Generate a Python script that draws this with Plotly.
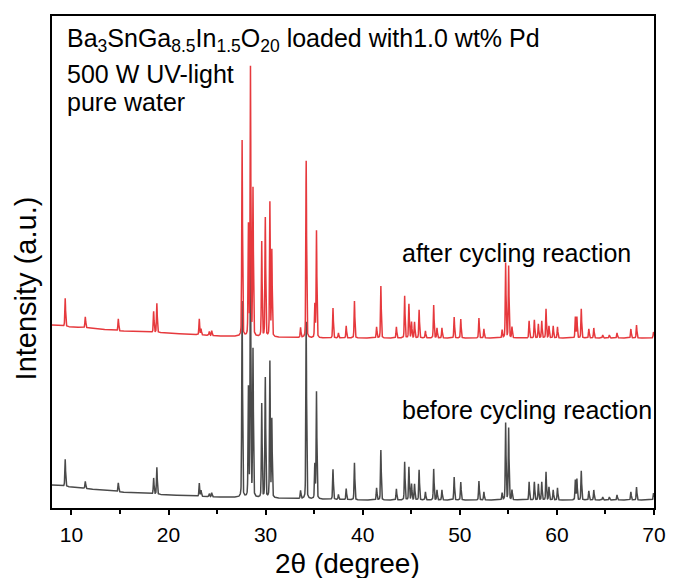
import numpy as np
import plotly.graph_objects as go

# Reflection positions (2θ, degree) shared by both patterns
peak_pos = [9.36, 11.43, 14.83, 18.47, 18.80, 23.17, 23.35, 24.20, 24.45, 27.58,
            28.23, 28.44, 28.70, 29.60, 29.97, 30.44, 30.64, 33.60, 34.18, 35.07,
            35.24, 36.94, 37.50, 38.30, 39.15, 41.43, 41.87, 43.47, 44.32, 44.76,
            45.03, 45.34, 45.81, 46.46, 47.31, 47.65, 48.16, 49.42, 50.10, 51.97,
            52.48, 54.36, 54.72, 55.03, 55.37, 57.14, 57.68, 58.09, 58.44, 58.88,
            59.18, 59.62, 60.06, 61.90, 62.06, 62.51, 63.29, 63.80, 64.72, 65.40,
            66.19, 67.62, 68.20, 69.95]

# Peak intensities (counts) before cycling
before_int = [270, 70, 90, 160, 270, 130, 60, 30, 40, 1960,
              1080, 2680, 1470, 940, 1200, 1360, 780, 80, 1770, 340,
              1070, 300, 50, 110, 370, 120, 500, 110, 380, 330,
              160, 160, 300, 80, 310, 100, 100, 230, 180, 190,
              80, 70, 770, 720, 100, 180, 180, 160, 180, 280,
              130, 100, 120, 200, 210, 290, 90, 100, 30, 30,
              50, 80, 130, 70]

# Peak intensities (counts) after cycling
after_int = [280, 110, 120, 210, 290, 160, 60, 40, 50, 1960,
             1100, 2680, 1470, 950, 1190, 1340, 860, 100, 1770, 330,
             1070, 300, 50, 120, 370, 110, 520, 110, 420, 340,
             160, 160, 280, 70, 330, 100, 100, 210, 190, 200,
             90, 80, 750, 720, 110, 170, 180, 140, 170, 290,
             120, 120, 110, 210, 210, 290, 90, 100, 30, 30,
             50, 90, 130, 60]

# Background levels (counts)
bg_theta = [8, 10, 12, 15, 20, 25, 30, 35, 40, 70]
before_bg = [230, 210, 190, 160, 130, 110, 100, 90, 80, 80]
after_bg = [230, 210, 200, 170, 150, 120, 110, 100, 100, 100]

# Vertical shift applied to the "after" pattern for stacking
after_offset = 1600

# Scan settings
theta = np.arange(8.0, 70.0001, 0.01)
fwhm = 0.09
eta = 0.3


def pattern(bg, heights):
    y = np.interp(theta, bg_theta, bg).astype(float)
    s = fwhm / 2.3548
    g = fwhm / 2
    for p, h in zip(peak_pos, heights):
        d = theta - p
        gauss = np.exp(-0.5 * (d / s) ** 2)
        lor = 1.0 / (1.0 + (d / g) ** 2)
        y += h * ((1 - eta) * gauss + eta * lor)
    return y


y_before = pattern(before_bg, before_int)
y_after = pattern(after_bg, after_int) + after_offset

FONT = "Liberation Sans, Arial, sans-serif"

fig = go.Figure()
fig.add_trace(go.Scatter(x=theta, y=y_before, mode="lines",
                         line=dict(color="#4a4a4a", width=1.5),
                         name="before cycling reaction", showlegend=False))
fig.add_trace(go.Scatter(x=theta, y=y_after, mode="lines",
                         line=dict(color="#e6393d", width=1.5),
                         name="after cycling reaction", showlegend=False))

fig.update_layout(
    width=678, height=578,
    margin=dict(l=52, r=15, t=16, b=70),
    paper_bgcolor="white", plot_bgcolor="white",
    font=dict(family=FONT, color="black"),
    xaxis=dict(range=[8, 70], tickmode="array", tickvals=[10, 20, 30, 40, 50, 60, 70],
               ticks="outside", ticklen=5, tickwidth=1.5, tickcolor="black",
               minor=dict(tickvals=[15, 25, 35, 45, 55, 65], ticks="outside",
                          ticklen=4, tickwidth=1.5, tickcolor="black"),
               showline=True, linecolor="black", linewidth=2, mirror=True,
               showgrid=False, zeroline=False, ticklabelstandoff=2,
               tickfont=dict(size=21, family=FONT, color="black")),
    yaxis=dict(range=[0, 4920], showticklabels=False, ticks="",
               showline=True, linecolor="black", linewidth=2, mirror=True,
               showgrid=False, zeroline=False),
)

annotations = [
    dict(text="Ba<sub>3</sub>SnGa<sub>8.5</sub>In<sub>1.5</sub>O<sub>20</sub> loaded with1.0 wt% Pd",
         x=65, y=40),
    dict(text="500 W UV-light", x=65, y=74),
    dict(text="pure water", x=65, y=102),
    dict(text="after cycling reaction", x=405, y=253),
    dict(text="before cycling reaction", x=405, y=410),
]
for a in annotations:
    fig.add_annotation(text=a["text"], xref="paper", yref="paper",
                       x=(a["x"] - 52) / 611, y=(508 - a["y"]) / 492,
                       xanchor="left", yanchor="middle", showarrow=False,
                       font=dict(size=25, family=FONT, color="black"))

fig.add_annotation(text="Intensity (a.u.)", xref="paper", yref="paper",
                   x=(26 - 52) / 611, y=(508 - 288) / 492,
                   xanchor="center", yanchor="middle",
                   textangle=-90, showarrow=False,
                   font=dict(size=29, family=FONT, color="black"))
fig.add_annotation(text="2θ (degree)", xref="paper", yref="paper",
                   x=(352 - 52) / 611, y=(508 - 563) / 492,
                   xanchor="center", yanchor="middle", showarrow=False,
                   font=dict(size=28, family=FONT, color="black"))

fig.write_html("out.html")
